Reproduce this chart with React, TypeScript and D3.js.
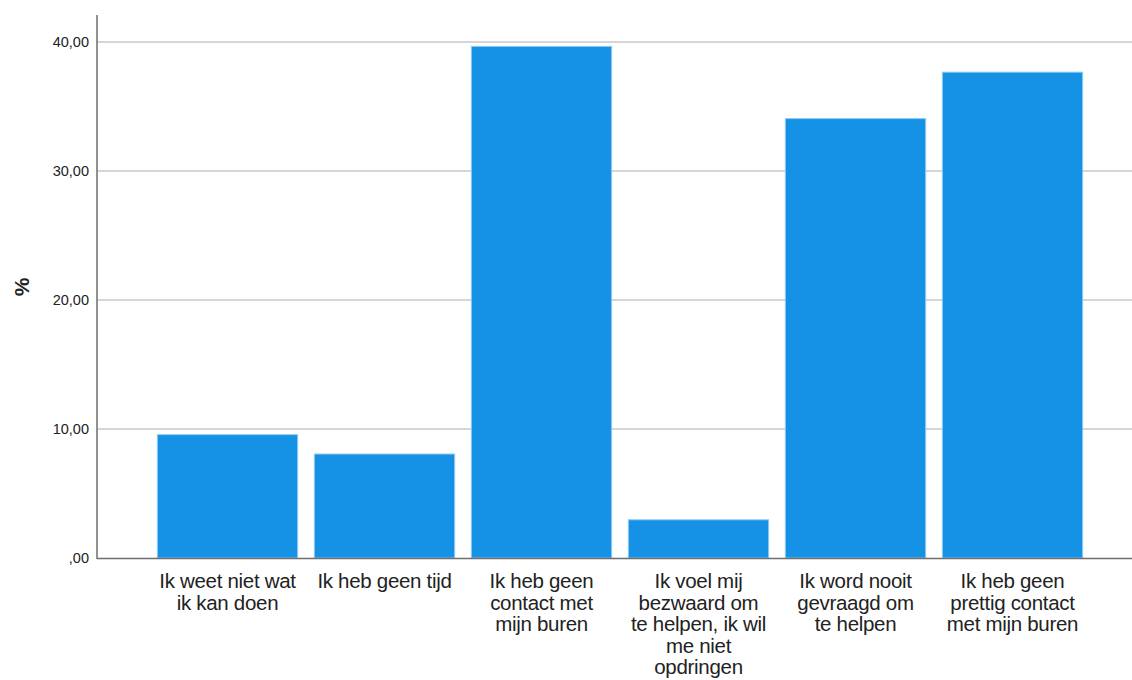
import React, { useEffect, useRef } from "react";
import * as d3 from "d3";

const categories: string[][] = [
  ["Ik weet niet wat", "ik kan doen"],
  ["Ik heb geen tijd"],
  ["Ik heb geen", "contact met", "mijn buren"],
  ["Ik voel mij", "bezwaard om", "te helpen, ik wil", "me niet", "opdringen"],
  ["Ik word nooit", "gevraagd om", "te helpen"],
  ["Ik heb geen", "prettig contact", "met mijn buren"],
];
const values: number[] = [9.6, 8.1, 39.7, 3.0, 34.1, 37.7];
const yTicks: number[] = [0, 10, 20, 30, 40];
const yLabel = "%";

const W = 1132;
const H = 680;

export default function App() {
  const ref = useRef<SVGSVGElement>(null);
  useEffect(() => {
    const svg = d3.select(ref.current);
    svg.selectAll("*").remove();
    const font = "'Liberation Sans', Arial, sans-serif";
    const x = d3
      .scaleBand<number>()
      .domain(d3.range(values.length))
      .range([149, 1091])
      .paddingInner(0.1)
      .paddingOuter(0.05);
    const y = d3.scaleLinear().domain([0, 40]).range([558, 42]);
    const fmt = (v: number) => {
      const s = d3.format(".2f")(v).replace(".", ",");
      return s.startsWith("0,") ? s.slice(1) : s;
    };

    svg
      .append("g")
      .selectAll("line")
      .data(yTicks.filter((t) => t > 0))
      .join("line")
      .attr("x1", 97)
      .attr("x2", W)
      .attr("y1", (d) => y(d))
      .attr("y2", (d) => y(d))
      .attr("stroke", "#c8c8c8")
      .attr("stroke-width", 1.5);

    svg
      .append("g")
      .selectAll("text")
      .data(yTicks)
      .join("text")
      .attr("x", 89)
      .attr("y", (d) => y(d))
      .attr("dy", "0.35em")
      .attr("text-anchor", "end")
      .attr("font-family", font)
      .attr("font-size", 14.5)
      .attr("fill", "#222")
      .text((d) => fmt(d));

    svg
      .append("g")
      .selectAll("rect")
      .data(values)
      .join("rect")
      .attr("x", (_, i) => x(i)! + 0.5)
      .attr("y", (d) => y(d) + 0.5)
      .attr("width", x.bandwidth() - 1)
      .attr("height", (d) => y(0) - y(d) - 0.5)
      .attr("fill", "#1591e6")
      .attr("stroke", "#8fcaf2")
      .attr("stroke-width", 1);

    svg
      .append("line")
      .attr("x1", 97)
      .attr("x2", 97)
      .attr("y1", 15)
      .attr("y2", 559)
      .attr("stroke", "#6e6e6e")
      .attr("stroke-width", 1.5);
    svg
      .append("line")
      .attr("x1", 97)
      .attr("x2", W)
      .attr("y1", 558.5)
      .attr("y2", 558.5)
      .attr("stroke", "#6e6e6e")
      .attr("stroke-width", 1.5);

    const lg = svg.append("g");
    categories.forEach((lines, i) => {
      const cx = x(i)! + x.bandwidth() / 2;
      const t = lg
        .append("text")
        .attr("text-anchor", "middle")
        .attr("font-family", font)
        .attr("font-size", 20.5)
        .attr("letter-spacing", -0.3)
        .attr("fill", "#222");
      lines.forEach((ln, j) => {
        t.append("tspan")
          .attr("x", cx)
          .attr("y", 588 + j * 21.6)
          .text(ln);
      });
    });

    svg
      .append("text")
      .attr("transform", "translate(29,287) rotate(-90)")
      .attr("text-anchor", "middle")
      .attr("font-family", font)
      .attr("font-weight", "bold")
      .attr("font-size", 21)
      .attr("fill", "#222")
      .text(yLabel);
  }, []);

  return (
    <div style={{ position: "fixed", left: 0, top: 0, width: W, height: H, background: "#fff" }}>
      <svg ref={ref} width={W} height={H} style={{ display: "block" }} />
    </div>
  );
}
